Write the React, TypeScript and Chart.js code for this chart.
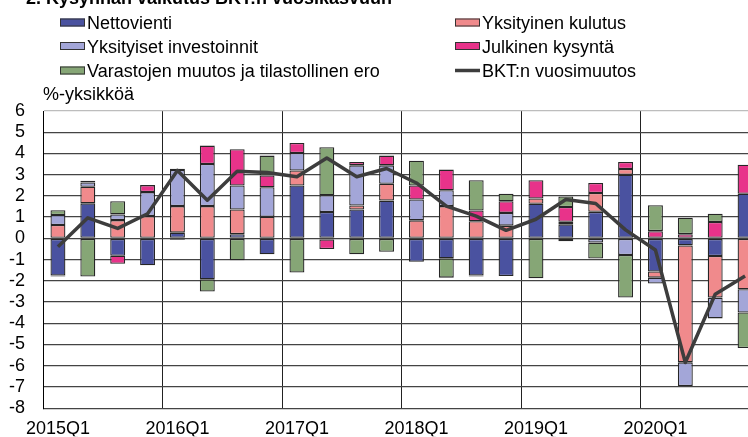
import React, { useEffect, useRef } from 'react';
import { Chart, registerables } from 'chart.js';

Chart.register(...registerables);

const FONT = "'Liberation Sans', Arial, Helvetica, sans-serif";

const TITLE = '2. Kysynnän vaikutus BKT:n vuosikasvuun';
const UNIT_LABEL = '%-yksikköä';

const quarters = [
  '2015Q1', '2015Q2', '2015Q3', '2015Q4',
  '2016Q1', '2016Q2', '2016Q3', '2016Q4',
  '2017Q1', '2017Q2', '2017Q3', '2017Q4',
  '2018Q1', '2018Q2', '2018Q3', '2018Q4',
  '2019Q1', '2019Q2', '2019Q3', '2019Q4',
  '2020Q1', '2020Q2', '2020Q3', '2020Q4',
];

const nettovienti = [
  -1.75, 1.65, -0.82, -1.27,
  0.27, -1.93, 0.2, -0.75,
  2.49, 1.24, 1.36, 1.78,
  -1.1, -0.94, -1.75, -1.77,
  1.63, 0.66, 1.25, 3.0,
  -1.56, -0.33, -0.83, 2.1,
];
const yksityinenKulutus = [
  0.63, 0.78, 0.86, 1.05,
  1.25, 1.52, 1.16, 1.02,
  0.71, -0.05, 0.19, 0.79,
  0.85, 1.52, 0.81, 0.6,
  0.25, 0.12, 0.89, 0.27,
  -0.29, -5.51, -1.96, -2.4,
];
const yksityisetInvestoinnit = [
  0.47, 0.2, 0.27, 1.13,
  1.7, 1.98, 1.13, 1.39,
  0.82, 0.79, 1.89, 0.87,
  0.98, 0.75, -0.05, 0.6,
  0.0, -0.13, -0.2, -0.78,
  -0.28, -1.12, -0.98, -1.09,
];
const julkinenKysynta = [
  -0.05, 0.08, -0.38, 0.33,
  0.06, 0.87, 1.71, 0.55,
  0.47, -0.45, 0.16, 0.46,
  0.66, 0.97, 0.5, 0.55,
  0.86, 0.7, 0.47, 0.33,
  0.34, 0.2, 0.77, 1.37,
];
const varastotJaEro = [
  0.23, -1.8, 0.62, 0.0,
  -0.07, -0.57, -1.03, 0.94,
  -1.61, 2.26, -0.75, -0.63,
  1.17, -0.91, 1.43, 0.35,
  -1.88, 0.49, -0.75, -2.01,
  1.22, 0.77, 0.39, -1.68,
];
const bktVuosimuutos = [
  -0.4, 0.97, 0.47, 1.16,
  3.2, 1.8, 3.16, 3.1,
  2.9, 3.79, 2.9, 3.29,
  2.61, 1.52, 1.05, 0.38,
  0.9, 1.83, 1.64, 0.4,
  -0.55, -5.85, -2.63, -1.77,
];

const seriesNames = [
  'Nettovienti',
  'Yksityinen kulutus',
  'Yksityiset investoinnit',
  'Julkinen kysyntä',
  'Varastojen muutos ja tilastollinen ero',
  'BKT:n vuosimuutos',
];
const seriesColors = ['#4a52a0', '#f08a8c', '#a3a6d8', '#e8338a', '#86a676', '#3d3d3d'];

const overlayPlugin = {
  id: 'overlayTexts',
  afterDraw(chart: any) {
    const ctx = chart.ctx as CanvasRenderingContext2D;
    ctx.save();
    ctx.fillStyle = '#000';
    ctx.textBaseline = 'alphabetic';
    ctx.textAlign = 'left';
    ctx.font = `bold 18px ${FONT}`;
    ctx.fillText(TITLE, 26, 4);
    ctx.font = `18px ${FONT}`;
    ctx.fillText(UNIT_LABEL, 43, 100);

    const colX = [60, 455];
    const rowY = [22.5, 46, 70.5];
    chart.data.datasets.forEach((ds: any, k: number) => {
      const x = colX[k % 2];
      const y = rowY[Math.floor(k / 2)];
      if (ds.type === 'line') {
        ctx.strokeStyle = ds.borderColor;
        ctx.lineWidth = 3.5;
        ctx.beginPath();
        ctx.moveTo(x, y);
        ctx.lineTo(x + 25, y);
        ctx.stroke();
      } else {
        ctx.fillStyle = ds.backgroundColor;
        ctx.fillRect(x, y - 4, 25, 8);
        ctx.strokeStyle = '#333';
        ctx.lineWidth = 1;
        ctx.strokeRect(x + 0.5, y - 3.5, 24, 7);
      }
      ctx.fillStyle = '#000';
      ctx.font = `18px ${FONT}`;
      ctx.fillText(ds.label, x + 27, y + 6.5);
    });
    ctx.restore();
  },
};

export default function App() {
  const canvasRef = useRef<HTMLCanvasElement | null>(null);

  useEffect(() => {
    const canvas = canvasRef.current;
    if (!canvas) return;
    const barSeries = [nettovienti, yksityinenKulutus, yksityisetInvestoinnit, julkinenKysynta, varastotJaEro];
    const datasets: any[] = barSeries.map((data, i) => ({
      type: 'bar',
      label: seriesNames[i],
      data,
      backgroundColor: seriesColors[i],
      borderColor: '#262626',
      borderWidth: 1.3,
      borderSkipped: false,
      stack: 'bars',
      order: 1,
    }));
    datasets.push({
      type: 'line',
      label: seriesNames[5],
      data: bktVuosimuutos,
      borderColor: seriesColors[5],
      backgroundColor: seriesColors[5],
      borderWidth: 3.5,
      pointRadius: 0,
      tension: 0,
      borderJoinStyle: 'round',
      stack: 'line',
      order: 0,
    });

    const chart = new Chart(canvas, {
      type: 'bar',
      data: { labels: quarters, datasets },
      options: {
        responsive: false,
        animation: false,
        devicePixelRatio: 1,
        layout: { padding: { left: 0, right: 20, top: 111, bottom: 0 } },
        datasets: { bar: { barPercentage: 0.5, categoryPercentage: 1 } },
        plugins: {
          legend: { display: false },
          tooltip: { enabled: false },
          title: { display: false },
        },
        scales: {
          x: {
            stacked: true,
            offset: true,
            grid: {
              offset: true,
              drawTicks: false,
              lineWidth: 1,
              color: (c: any) => (typeof c.index === 'number' && c.index % 4 === 0 ? '#222' : 'rgba(0,0,0,0)'),
            },
            border: { display: false },
            ticks: {
              autoSkip: false,
              maxRotation: 0,
              minRotation: 0,
              padding: 10,
              color: '#000',
              font: { family: FONT, size: 18 },
              callback: (_v: any, i: number) => (i % 4 === 0 ? quarters[i] : ''),
            },
            afterFit: (s: any) => {
              s.height = 28;
            },
          },
          y: {
            stacked: true,
            min: -8,
            max: 6,
            ticks: {
              stepSize: 1,
              autoSkip: false,
              padding: 18,
              color: '#000',
              font: { family: FONT, size: 18 },
            },
            grid: {
              drawTicks: false,
              lineWidth: 1.3,
              color: (c: any) => (c.tick && c.tick.value === 6 ? '#bdbdbd' : '#444444'),
            },
            border: { display: true, color: '#000', width: 1 },
            afterFit: (s: any) => {
              s.width = 43;
            },
          },
        },
      } as any,
      plugins: [overlayPlugin],
    });
    return () => chart.destroy();
  }, []);

  return (
    <div
      style={{
        position: 'fixed',
        left: 0,
        top: 0,
        width: 748,
        height: 437,
        overflow: 'hidden',
        background: '#fff',
      }}
    >
      <canvas ref={canvasRef} width={780} height={437} style={{ display: 'block', width: 780, height: 437 }} />
    </div>
  );
}
